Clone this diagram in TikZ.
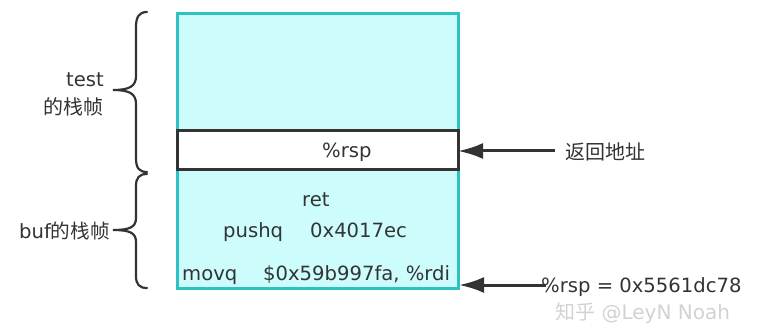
\documentclass[tikz,border=0pt]{standalone}
\usepackage{fontspec}
\setmainfont{DejaVu Sans}
\newfontfamily\cjk{Noto Sans CJK SC}
\usetikzlibrary{arrows.meta}
\definecolor{cyanfill}{HTML}{CCFCFC}
\definecolor{tealline}{HTML}{2EC2C2}
\definecolor{ink}{HTML}{333333}
\begin{document}
\begin{tikzpicture}[x=1pt,y=-1pt,
  txt/.style={text=ink,inner sep=0pt,font=\fontsize{19.6}{22}\selectfont},
  ctxt/.style={text=ink,inner sep=0pt,font=\fontsize{20}{22}\selectfont\cjk},
  frame/.style={draw=tealline,line width=3pt,fill=cyanfill},
  slot/.style={draw=ink,line width=3pt,fill=white},
  bracel/.style={draw=ink,line width=2.2pt,line cap=round},
  ptr/.style={draw=ink,line width=3pt,-{Latex[length=25pt,width=16pt]}}]
\useasboundingbox (0,0) rectangle (781,331);
% boxes
\draw[frame] (177,14) rectangle (458,131);
\draw[frame] (177,170) rectangle (458,288);
\draw[slot] (177,131) rectangle (458,170);
\coordinate (slotE) at (458,151);
\coordinate (bufE) at (459,285);
% braces
\draw[bracel] (147,12) .. controls (139,12) and (136,17) .. (136,27) -- (136,76)
  .. controls (136,86) and (130,90) .. (113,90)
  .. controls (130,90) and (136,94) .. (136,104) -- (136,158)
  .. controls (136,168) and (139,172) .. (147,172);
\draw[bracel] (147,174) .. controls (139,174) and (136,178) .. (136,186) -- (136,218)
  .. controls (136,227) and (130,230) .. (113,230)
  .. controls (130,230) and (136,233) .. (136,242) -- (136,276)
  .. controls (136,284) and (139,288) .. (147,288);
% left labels
\node[txt,anchor=base east] (test) at (104,87) {test};
\node[ctxt,anchor=east] (testf) at (104,107) {的栈帧};
\node[txt,anchor=base east] (buf) at (110,238) {buf{\cjk 的栈帧}};
% box texts
\node[txt,anchor=base west] (rsp) at (322,158) {\%rsp};
\node[txt,anchor=base west] (ret) at (302,206) {ret};
\node[txt,anchor=base west] (push) at (223,237) {pushq};
\node[txt,anchor=base west] (pusharg) at (310,237) {0x4017ec};
\node[txt,anchor=base west] (movq) at (182,280) {movq};
\node[txt,anchor=base west] (movarg) at (263,280) {\$0x59b997fa, \%rdi};
% right labels
\node[ctxt,anchor=west] (retaddr) at (565,152) {返回地址};
\node[txt,anchor=base west] (rspval) at (541,292) {\%rsp = 0x5561dc78};
\coordinate (a1) at (555,151);
\coordinate (a2) at (546,285);
\draw[ptr] (a1) -- (slotE);
\draw[ptr] (a2) -- (bufE);
% watermark
\node[text=gray!35,inner sep=0pt,font=\fontsize{20}{22}\selectfont,anchor=west] (wm) at (555,313) {{\cjk 知乎} @LeyN Noah};
\end{tikzpicture}
\end{document}
